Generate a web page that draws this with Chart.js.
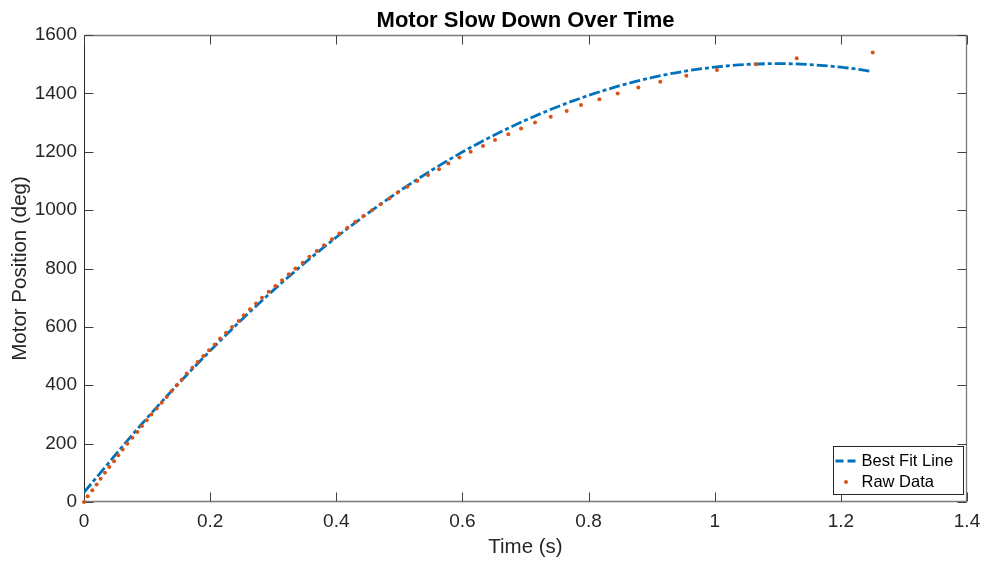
<!DOCTYPE html>
<html>
<head>
<meta charset="utf-8">
<title>Motor Slow Down Over Time</title>
<script src="https://cdn.jsdelivr.net/npm/chart.js@4.4.1/dist/chart.umd.min.js"></script>
<style>
  html, body { margin: 0; padding: 0; background: #fff; }
  #wrap { width: 986px; height: 564px; position: relative; }
</style>
</head>
<body>
<div id="wrap"><canvas id="chart"></canvas></div>
<script>
// Raw encoder readings, one every 20 deg (time in s)
const rawTime = [
  0, 0.0058, 0.0132, 0.0201, 0.0264, 0.0333, 0.0402, 0.0476, 0.0544, 0.0613,
  0.0687, 0.0766, 0.0846, 0.0920, 0.0994, 0.1068, 0.1152, 0.1232, 0.1311, 0.1390,
  0.1470, 0.1549, 0.1628, 0.1718, 0.1802, 0.1892, 0.1982, 0.2073, 0.2157, 0.2252,
  0.2347, 0.2453, 0.2533, 0.2632, 0.2727, 0.2822, 0.2928, 0.3033, 0.3140, 0.3246,
  0.3351, 0.3468, 0.3573, 0.3690, 0.3805, 0.3932, 0.4048, 0.4175, 0.4302, 0.4429,
  0.4566, 0.4704, 0.4840, 0.4975, 0.5126, 0.5285, 0.5454, 0.5629, 0.5776, 0.5951,
  0.6131, 0.6326, 0.6517, 0.6728, 0.6929, 0.7151, 0.7400, 0.7653, 0.7880, 0.8171,
  0.8462, 0.8789, 0.9137, 0.9550, 1.0036, 1.0655, 1.1300, 1.2505
]
const rawPos = [
  0, 20, 40, 60, 80, 100, 120, 140, 160, 180,
  200, 220, 240, 260, 280, 300, 320, 340, 360, 380,
  400, 420, 440, 460, 480, 500, 520, 540, 560, 580,
  600, 620, 640, 660, 680, 700, 720, 740, 760, 780,
  800, 820, 840, 860, 880, 900, 920, 940, 960, 980,
  1000, 1020, 1040, 1060, 1080, 1100, 1120, 1140, 1160, 1180,
  1200, 1220, 1240, 1260, 1280, 1300, 1320, 1340, 1360, 1380,
  1400, 1420, 1440, 1460, 1480, 1500, 1520, 1540
]

// Best fit line, sampled off the plot
const fitTime = [0, 0.1, 0.2, 0.3, 0.4, 0.5, 0.6, 0.7, 0.8, 0.9, 1.0, 1.1, 1.2, 1.25]
const fitPos = [33, 288, 518, 725, 907, 1065, 1199, 1308, 1393, 1454, 1490, 1502, 1490, 1475]

// Axis ticks
const xTicks = [0, 0.2, 0.4, 0.6, 0.8, 1, 1.2, 1.4]
const yTicks = [0, 200, 400, 600, 800, 1000, 1200, 1400, 1600]

const BLUE = "#0072BD"
const ORANGE = "#D95319"
const TEXT = "#262626"
const FONT = "'Liberation Sans', Arial, Helvetica, sans-serif"

Chart.defaults.font.family = FONT
Chart.defaults.color = TEXT

// Box round the axes with inward ticks on all four sides
const boxPlugin = {
  id: "box",
  beforeDatasetsDraw(chart) {
    const { ctx, chartArea: a, scales } = chart
    const L = Math.round(a.left) + 0.5
    const R = Math.round(a.right) - 0.5
    const T = Math.round(a.top) + 0.5
    const B = Math.round(a.bottom) - 0.5
    const tick = 9
    ctx.save()
    ctx.lineWidth = 1
    ctx.strokeStyle = TEXT
    ctx.beginPath()
    ctx.moveTo(L, T); ctx.lineTo(L, B)
    ctx.stroke()
    ctx.strokeStyle = "#7a7a7a"
    ctx.lineWidth = 1.3
    ctx.beginPath()
    ctx.moveTo(L, B); ctx.lineTo(R, B); ctx.lineTo(R, T); ctx.lineTo(L, T)
    ctx.stroke()

    ctx.strokeStyle = "#404040"
    ctx.lineWidth = 1
    ctx.beginPath()
    xTicks.forEach((v) => {
      const x = Math.round(scales.x.getPixelForValue(v)) + 0.5
      ctx.moveTo(x, B); ctx.lineTo(x, B - tick)
      ctx.moveTo(x, T); ctx.lineTo(x, T + tick)
    })
    yTicks.forEach((v) => {
      const y = Math.round(scales.y.getPixelForValue(v)) + 0.5
      ctx.moveTo(L, y); ctx.lineTo(L + tick, y)
      ctx.moveTo(R, y); ctx.lineTo(R - tick, y)
    })
    ctx.stroke()
    ctx.restore()
  },
}

// Legend box in the lower right corner
const legendPlugin = {
  id: "matlabLegend",
  afterDraw(chart) {
    const { ctx, chartArea: a } = chart
    const w = 130, h = 48
    const x0 = Math.round(a.right) - 4 - w + 0.5
    const y0 = Math.round(a.bottom) - 8 - h + 0.5
    ctx.save()
    ctx.fillStyle = "#fff"
    ctx.fillRect(x0, y0, w, h)
    ctx.strokeStyle = TEXT
    ctx.lineWidth = 1
    ctx.strokeRect(x0, y0, w, h)

    const row1 = y0 + 14.5
    const row2 = y0 + 35.5
    ctx.strokeStyle = BLUE
    ctx.lineWidth = 2.8
    ctx.setLineDash([8, 4])
    ctx.beginPath()
    ctx.moveTo(x0 + 2, row1); ctx.lineTo(x0 + 23, row1)
    ctx.stroke()
    ctx.setLineDash([])

    ctx.fillStyle = ORANGE
    ctx.beginPath()
    ctx.arc(x0 + 12.5, row2, 2, 0, Math.PI * 2)
    ctx.fill()

    ctx.fillStyle = "#000"
    ctx.font = "16.5px " + FONT
    ctx.textBaseline = "middle"
    ctx.textAlign = "left"
    ctx.fillText("Best Fit Line", x0 + 28, row1)
    ctx.fillText("Raw Data", x0 + 28, row2)
    ctx.restore()
  },
}

const fitPoints = fitTime.map((t, i) => ({ x: t, y: fitPos[i] }))
const rawPoints = rawTime.map((t, i) => ({ x: t, y: rawPos[i] }))

new Chart(document.getElementById("chart"), {
  type: "scatter",
  data: {
    datasets: [
      {
        label: "Best Fit Line",
        data: fitPoints,
        showLine: true,
        borderColor: BLUE,
        backgroundColor: BLUE,
        borderWidth: 2.8,
        borderDash: [11, 3, 4, 3],
        cubicInterpolationMode: "monotone",
        pointRadius: 0,
        order: 1,
      },
      {
        label: "Raw Data",
        data: rawPoints,
        showLine: false,
        pointRadius: 2,
        pointBorderWidth: 0,
        pointBackgroundColor: ORANGE,
        pointBorderColor: ORANGE,
        clip: false,
        order: 0,
      },
    ],
  },
  options: {
    responsive: true,
    maintainAspectRatio: false,
    animation: false,
    devicePixelRatio: 1,
    layout: { padding: { left: 0, right: 19, top: 0, bottom: 0 } },
    plugins: {
      legend: { display: false },
      tooltip: { enabled: false },
      title: {
        display: true,
        fullSize: false,
        text: "Motor Slow Down Over Time",
        color: "#000",
        font: { size: 22, weight: "bold", lineHeight: 1.2 },
        padding: { top: 8, bottom: 0.6 },
      },
    },
    scales: {
      x: {
        type: "linear",
        min: 0,
        max: 1.4,
        afterBuildTicks: (scale) => { scale.ticks = xTicks.map((v) => ({ value: v })) },
        afterFit: (scale) => {
          scale.height = 62
          scale.paddingRight = 0
        },
        grid: { display: false, drawTicks: false },
        border: { display: false },
        ticks: {
          padding: 8,
          maxRotation: 0,
          font: { size: 19 },
          color: TEXT,
          callback: (v) => String(Math.round(v * 10) / 10),
        },
        title: {
          display: true,
          text: "Time (s)",
          color: TEXT,
          font: { size: 20.5, lineHeight: 1.2 },
          padding: { top: 0, bottom: 4.7 },
        },
      },
      y: {
        type: "linear",
        min: 0,
        max: 1600,
        afterBuildTicks: (scale) => { scale.ticks = yTicks.map((v) => ({ value: v })) },
        afterFit: (scale) => { scale.width = 84 },
        grid: { display: false, drawTicks: false },
        border: { display: false },
        ticks: {
          padding: 7,
          font: { size: 19 },
          color: TEXT,
          callback: (v) => String(v),
        },
        title: {
          display: true,
          text: "Motor Position (deg)",
          color: TEXT,
          font: { size: 20.5, lineHeight: 1.2 },
          padding: { top: 7.7, bottom: 0 },
        },
      },
    },
  },
  plugins: [boxPlugin, legendPlugin],
})
</script>
</body>
</html>
